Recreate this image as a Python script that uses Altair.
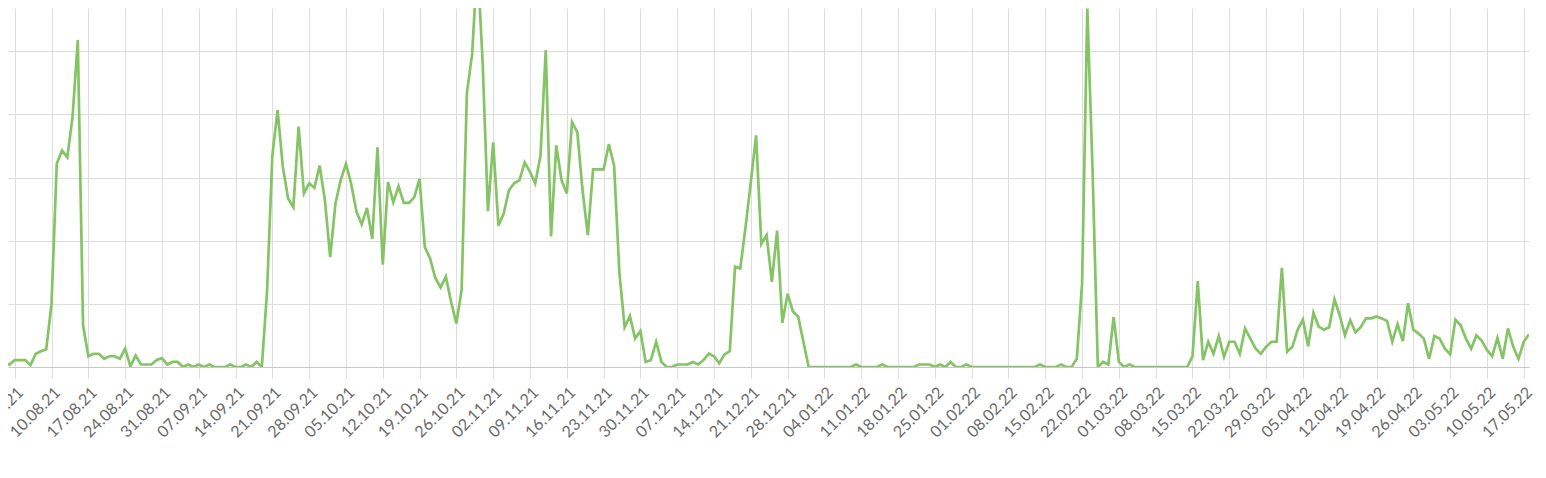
import altair as alt
import pandas as pd

# daily series, first day 31.07.21, last day 18.05.22
start_date = "2021-07-31"
values = [
    2.2, 0.6, 0.4,
    1.1, 1.1, 1.1, 0.3, 2.1, 2.5, 2.8,
    10.0, 32.2, 34.3, 33.2, 39.6, 51.8, 6.6,
    1.7, 2.1, 2.1, 1.3, 1.7, 1.7, 1.3,
    2.9, 0.1, 1.8, 0.4, 0.4, 0.4, 1.1,
    1.4, 0.4, 0.8, 0.8, 0.0, 0.4, 0.0,
    0.4, 0.0, 0.4, 0.0, 0.0, 0.0, 0.4,
    0.0, 0.0, 0.4, 0.0, 0.8, 0.0, 12.1,
    33.5, 40.7, 31.7, 26.7, 25.3, 38.1, 27.5,
    29.1, 28.4, 31.9, 26.4, 17.4, 25.9, 29.6,
    32.2, 29.0, 24.6, 22.6, 25.2, 20.3, 34.8,
    16.2, 29.3, 26.1, 28.6, 26.0, 26.0, 26.9,
    29.8, 19.0, 17.2, 14.1, 12.6, 14.3, 10.3,
    6.9, 12.2, 43.4, 49.6, 64.4, 48.2, 24.7,
    35.6, 22.4, 24.3, 28.0, 29.1, 29.6, 32.4,
    30.9, 29.1, 33.5, 50.2, 20.7, 35.1, 29.6,
    27.5, 38.8, 37.2, 28.0, 20.9, 31.3, 31.3,
    31.3, 35.3, 31.9, 15.0, 6.3, 8.1, 4.5,
    5.7, 0.8, 1.1, 4.0, 0.8, 0.0, 0.0,
    0.4, 0.4, 0.4, 0.8, 0.4, 1.1, 2.1,
    1.7, 0.6, 2.0, 2.5, 15.9, 15.6, 22.2,
    29.3, 36.7, 19.5, 20.9, 13.5, 21.6, 7.0,
    11.6, 8.8, 8.0, 4.0, 0.0, 0.0, 0.0,
    0.0, 0.0, 0.0, 0.0, 0.0, 0.0, 0.4,
    0.0, 0.0, 0.0, 0.0, 0.4, 0.0, 0.0,
    0.0, 0.0, 0.0, 0.0, 0.4, 0.4, 0.4,
    0.0, 0.4, 0.0, 0.8, 0.0, 0.0, 0.4,
    0.0, 0.0, 0.0, 0.0, 0.0, 0.0, 0.0,
    0.0, 0.0, 0.0, 0.0, 0.0, 0.0, 0.4,
    0.0, 0.0, 0.0, 0.4, 0.0, 0.0, 1.3,
    13.2, 56.8, 31.0, 0.0, 0.8, 0.4, 7.9,
    0.8, 0.0, 0.4, 0.0, 0.0, 0.0, 0.0,
    0.0, 0.0, 0.0, 0.0, 0.0, 0.0, 0.0,
    1.7, 13.6, 1.1, 4.0, 2.1, 4.9, 1.6,
    4.0, 4.0, 2.1, 6.1, 4.5, 2.9, 2.1,
    3.2, 4.0, 4.0, 15.7, 2.4, 3.2, 5.9,
    7.5, 3.3, 8.6, 6.4, 5.9, 6.3, 10.7,
    8.2, 5.0, 7.4, 5.5, 6.3, 7.7, 7.7,
    8.0, 7.7, 7.3, 4.0, 6.8, 4.1, 10.1,
    5.9, 5.3, 4.5, 1.3, 4.9, 4.5, 2.9,
    2.0, 7.5, 6.6, 4.5, 2.9, 5.0, 4.2,
    2.7, 1.7, 4.6, 1.3, 6.1, 3.2, 1.3,
    4.0, 5.2,
]
dates = pd.date_range(start_date, periods=len(values), freq="D").strftime("%Y-%m-%d").tolist()

tick_dates = pd.date_range("2021-08-03", "2022-05-17", freq="7D")
tick_values = [int(t.tz_localize("UTC").timestamp() * 1000) for t in tick_dates]
y_ticks = [0, 10, 20, 30, 40, 50]

x_min = int(pd.Timestamp("2021-08-01T17:25", tz="UTC").timestamp() * 1000)
x_max = int(pd.Timestamp("2022-05-18", tz="UTC").timestamp() * 1000)

df = pd.DataFrame({"date": dates, "value": values})

chart = alt.Chart(df).mark_line(
    color="#84c464", strokeWidth=2.7, clip=True, strokeJoin="miter"
).encode(
    x=alt.X(
        "date:T",
        scale=alt.Scale(type="utc", domain=[x_min, x_max]),
        axis=alt.Axis(
            values=tick_values,
            format="%d.%m.%y",
            labelAngle=-45,
            labelAlign="right",
            labelBaseline="top",
            labelFont="Lato",
            labelFontSize=16,
            labelColor="#6a6a6a",
            labelPadding=6,
            labelOverlap=False,
            tickSize=11,
            tickColor="#dddddd",
            grid=True,
            gridColor="#dddddd",
            domainColor="#c8c8c8",
            title=None,
        ),
    ),
    y=alt.Y(
        "value:Q",
        scale=alt.Scale(domain=[0, 56.87], nice=False, zero=True),
        axis=alt.Axis(
            values=y_ticks,
            labels=False,
            ticks=False,
            domain=False,
            grid=True,
            gridColor="#dddddd",
            title=None,
        ),
    ),
).properties(
    width=1521,
    height=359,
    autosize=alt.AutoSizeParams(type="none"),
    padding={"left": 0, "top": 0, "right": 8, "bottom": 100},
).configure_view(strokeWidth=0)

chart.save("out.html", embed_options={"renderer": "svg", "actions": False})
